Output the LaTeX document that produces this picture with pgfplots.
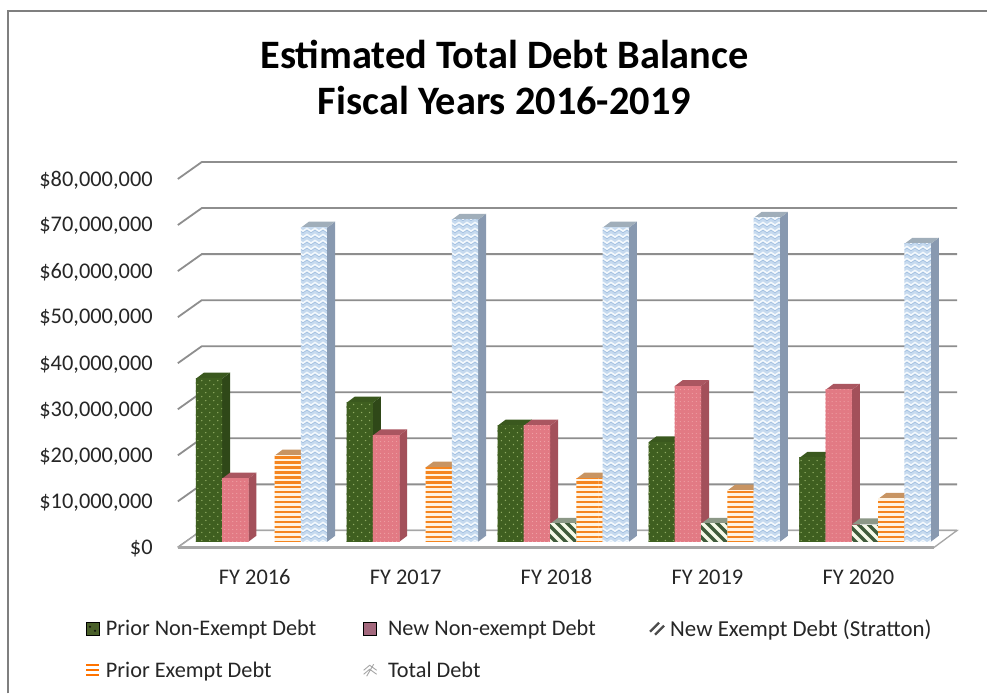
\documentclass[border=0pt]{standalone}
\usepackage{fontspec}
\setmainfont{Carlito}
\usepackage{pgfplots}
\usepackage{pgfplotstable}
\pgfplotsset{compat=1.18}
\usetikzlibrary{patterns}

\definecolor{gridgray}{HTML}{8E8E8E}
\definecolor{floorgray}{HTML}{A6A6A6}
\definecolor{framegray}{HTML}{7F7F7F}
\definecolor{inktext}{HTML}{262626}

% Two-colour fill textures for the bar fronts
\pgfdeclarepatterninherentlycolored{greendots}{\pgfqpoint{-1pt}{-1pt}}{\pgfqpoint{9pt}{9pt}}{\pgfqpoint{8pt}{8pt}}{%
  \definecolor{a}{HTML}{3F5F20}\definecolor{b}{HTML}{8FAA62}%
  \pgfsetfillcolor{a}\pgfpathrectangle{\pgfqpoint{-1pt}{-1pt}}{\pgfqpoint{10pt}{10pt}}\pgfusepath{fill}%
  \pgfsetfillcolor{b}\pgfpathcircle{\pgfqpoint{2pt}{2pt}}{0.75pt}\pgfpathcircle{\pgfqpoint{6pt}{6pt}}{0.75pt}\pgfusepath{fill}}
\pgfdeclarepatterninherentlycolored{pinkdots}{\pgfqpoint{-1pt}{-1pt}}{\pgfqpoint{5pt}{5pt}}{\pgfqpoint{4pt}{4pt}}{%
  \definecolor{a}{HTML}{E27A84}\definecolor{b}{HTML}{EFA0A4}%
  \pgfsetfillcolor{a}\pgfpathrectangle{\pgfqpoint{-1pt}{-1pt}}{\pgfqpoint{6pt}{6pt}}\pgfusepath{fill}%
  \pgfsetfillcolor{b}\pgfpathcircle{\pgfqpoint{1pt}{1pt}}{0.6pt}\pgfusepath{fill}}
\pgfdeclarepatterninherentlycolored{orangebands}{\pgfqpoint{-1pt}{0pt}}{\pgfqpoint{61pt}{5pt}}{\pgfqpoint{60pt}{5pt}}{%
  \definecolor{a}{HTML}{FFF3E2}\definecolor{b}{HTML}{F5851F}%
  \pgfsetfillcolor{a}\pgfpathrectangle{\pgfqpoint{-1pt}{0pt}}{\pgfqpoint{62pt}{5pt}}\pgfusepath{fill}%
  \pgfsetfillcolor{b}\pgfpathrectangle{\pgfqpoint{-1pt}{1pt}}{\pgfqpoint{62pt}{2.6pt}}\pgfusepath{fill}}
\pgfdeclarepatterninherentlycolored{bluewaves}{\pgfqpoint{0pt}{0pt}}{\pgfqpoint{8pt}{6pt}}{\pgfqpoint{8pt}{6pt}}{%
  \definecolor{a}{HTML}{C6DAEF}\definecolor{b}{HTML}{F4F9FD}\definecolor{c}{HTML}{A3C0E0}%
  \pgfsetfillcolor{a}\pgfpathrectangle{\pgfpointorigin}{\pgfqpoint{8pt}{6pt}}\pgfusepath{fill}%
  \pgfsetstrokecolor{c}\pgfsetlinewidth{0.7pt}%
  \pgfpathmoveto{\pgfqpoint{-1pt}{-0.4pt}}\pgflineto{\pgfqpoint{4pt}{3pt}}\pgflineto{\pgfqpoint{9pt}{-0.4pt}}\pgfusepath{stroke}%
  \pgfsetstrokecolor{b}\pgfsetlinewidth{1.5pt}%
  \pgfpathmoveto{\pgfqpoint{-1pt}{1.2pt}}\pgflineto{\pgfqpoint{4pt}{4.6pt}}\pgflineto{\pgfqpoint{9pt}{1.2pt}}\pgfusepath{stroke}}
\pgfdeclarepatterninherentlycolored{greenslant}{\pgfqpoint{0pt}{0pt}}{\pgfqpoint{10pt}{10pt}}{\pgfqpoint{10pt}{10pt}}{%
  \definecolor{a}{HTML}{F6F9E8}\definecolor{b}{HTML}{3F5B3A}%
  \pgfsetfillcolor{a}\pgfpathrectangle{\pgfpointorigin}{\pgfqpoint{10pt}{10pt}}\pgfusepath{fill}%
  \pgfsetstrokecolor{b}\pgfsetlinewidth{3.2pt}%
  \pgfpathmoveto{\pgfqpoint{-1pt}{11pt}}\pgflineto{\pgfqpoint{11pt}{-1pt}}%
  \pgfpathmoveto{\pgfqpoint{-3pt}{3pt}}\pgflineto{\pgfqpoint{3pt}{-3pt}}%
  \pgfpathmoveto{\pgfqpoint{7pt}{13pt}}\pgflineto{\pgfqpoint{13pt}{7pt}}\pgfusepath{stroke}}

\tikzset{
  prior front/.style={pattern=greendots},  prior side/.style={fill={rgb,255:red,47;green,72;blue,24}},  prior top/.style={fill={rgb,255:red,58;green,88;blue,30}},
  new front/.style={pattern=pinkdots},     new side/.style={fill={rgb,255:red,163;green,80;blue,90}},   new top/.style={fill={rgb,255:red,170;green,86;blue,96}},
  stratton front/.style={pattern=greenslant}, stratton side/.style={fill={rgb,255:red,120;green,135;blue,115}}, stratton top/.style={fill={rgb,255:red,140;green,152;blue,135}},
  exempt front/.style={pattern=orangebands},  exempt side/.style={fill={rgb,255:red,190;green,130;blue,85}},    exempt top/.style={fill={rgb,255:red,200;green,148;blue,98}},
  total front/.style={pattern=bluewaves},  total side/.style={fill={rgb,255:red,136;green,153;blue,176}}, total top/.style={fill={rgb,255:red,160;green,174;blue,186}},
}

% Debt balances in millions of dollars
\pgfplotstableread{
Row PriorNon NewNon Stratton PriorEx Total
0   35.4     13.7   0        18.7    68.2
1   30.2     23.1   0        16.1    69.9
2   25.2     25.2   3.9      13.7    68.2
3   21.6     33.8   3.9      11.1    70.3
4   18.2     33.0   3.75     9.3     64.7
}\debttable

% Bar geometry, in axis units
\def\slotw{0.1741}    % bar width along x
\def\depthx{0.053}    % extrusion along x
\def\depthy{1.30}     % extrusion along y
\def\basey{1.236}     % bars stand slightly behind the front edge of the floor

% One extruded bar: group, table column, slot offset in bar widths, look
\newcommand{\debtbar}[4]{%
  \pgfplotstablegetelem{#1}{#2}\of{\debttable}%
  \edef\barval{\pgfplotsretval}%
  \ifdim\barval pt>0pt
    \pgfmathsetmacro\xa{#1+(#3)*\slotw}%
    \pgfmathsetmacro\xb{\xa+\slotw}%
    \pgfmathsetmacro\xc{\xb+\depthx}%
    \pgfmathsetmacro\xd{\xa+\depthx}%
    \pgfmathsetmacro\ytop{\basey+\barval}%
    \pgfmathsetmacro\ytopb{\ytop+\depthy}%
    \pgfmathsetmacro\ybotb{\basey+\depthy}%
    \addplot[forget plot,draw=none,#4 side] coordinates {(\xb,\basey)(\xc,\ybotb)(\xc,\ytopb)(\xb,\ytop)};
    \addplot[forget plot,draw=none,#4 top] coordinates {(\xa,\ytop)(\xb,\ytop)(\xc,\ytopb)(\xd,\ytopb)};
    \addplot[forget plot,draw=none,#4 front] coordinates {(\xa,\basey)(\xb,\basey)(\xb,\ytop)(\xa,\ytop)};
  \fi
}

\begin{document}
\begin{tikzpicture}[x=1pt,y=1pt]
  \path[fill=white] (0,0) rectangle (988,694);
  \draw[framegray,line width=2pt] (8.5,0) -- (8.5,683) -- (988,683);
  \node[font=\fontsize{40.4}{46}\selectfont\bfseries,align=center,text=black] at (505,616.5)
    {Estimated Total Debt Balance\\Fiscal Years 2016-2019};

  \begin{axis}[
    at={(178pt,146pt)},anchor=south west,
    scale only axis,width=780pt,height=408pt,
    xmin=-0.5545,xmax=4.6094,ymin=0,ymax=88.5,
    clip=false,
    axis line style={draw=none},
    major tick length=0pt,
    xtick={0,1,2,3,4},
    xticklabels={FY 2016,FY 2017,FY 2018,FY 2019,FY 2020},
    ytick={0,10,...,80},
    yticklabels={\$0,{\$10,000,000},{\$20,000,000},{\$30,000,000},{\$40,000,000},{\$50,000,000},{\$60,000,000},{\$70,000,000},{\$80,000,000}},
    tick label style={font=\fontsize{22.4}{26}\selectfont,text=inktext,inner sep=0pt},
    yticklabel style={anchor=east,xshift=-25pt,yshift=-1pt},
    xticklabel style={anchor=north,xshift=-6.75pt,yshift=-22pt},
    ytick pos=left,xtick pos=bottom,
    legend columns=3,
    legend cell align=left,
    legend style={
      at={(-93pt,-70pt)},anchor=north west,
      draw=none,fill=none,
      font=\fontsize{22.3}{26}\selectfont,text=inktext,
      inner sep=0pt,
      row sep=20pt,
      /tikz/every even column/.style={column sep=45pt},
    },
  ]
    % Wall gridlines, running back from the front edge at each tick
    \pgfplotsinvokeforeach{0,10,...,80}{
      \pgfmathsetmacro\yback{#1+3.69}
      \addplot[forget plot,gridgray,line width=1.8pt,no marks]
        coordinates {(-0.5545,#1)(-0.3956,\yback)(4.6094,\yback)};
    }
    % Floor of the chart
    \addplot[forget plot,draw=floorgray,line width=1.3pt,fill=white]
      coordinates {(-0.5545,0)(-0.3956,3.69)(4.6094,3.69)(4.4571,0)(-0.5545,0)};
    \addplot[forget plot,floorgray,line width=2.5pt,no marks]
      coordinates {(-0.5545,0)(4.4571,0)};

    \pgfplotsinvokeforeach{0,1,2,3,4}{
      \debtbar{#1}{PriorNon}{-2.5}{prior}
      \debtbar{#1}{NewNon}{-1.5}{new}
      \debtbar{#1}{Stratton}{-0.5}{stratton}
      \debtbar{#1}{PriorEx}{0.5}{exempt}
      \debtbar{#1}{Total}{1.5}{total}
    }

    % Legend keys
    \addlegendimage{legend image code/.code={%
      \fill[fill={rgb,255:red,74;green,96;blue,42}] (0pt,-6.5pt) rectangle (13pt,6.5pt);
      \fill[fill={rgb,255:red,160;green,178;blue,120}] (4pt,2pt) circle (0.8pt) (9pt,-2pt) circle (0.8pt);}}
    \addlegendentry{\hspace{4pt}Prior Non-Exempt Debt}
    \addlegendimage{legend image code/.code={%
      \fill[fill={rgb,255:red,163;green,104;blue,125}] (0pt,-6.5pt) rectangle (13pt,6.5pt);}}
    \addlegendentry{\hspace{9pt}\makebox[214pt][l]{New Non-exempt Debt}}
    \addlegendimage{legend image code/.code={%
      \draw[black!70,line width=2.4pt] (0pt,-3pt) -- (9pt,6pt) (5pt,-6pt) -- (14pt,3pt);}}
    \addlegendentry{\hspace{3pt}\fontsize{22.9}{26}\selectfont New Exempt Debt (Stratton)}
    \addlegendimage{legend image code/.code={%
      \draw[orange!90!red,line width=1.8pt] (0pt,-5pt) -- (13pt,-5pt) (0pt,0pt) -- (13pt,0pt) (0pt,5pt) -- (13pt,5pt);}}
    \addlegendentry{\hspace{4pt}Prior Exempt Debt}
    \addlegendimage{legend image code/.code={%
      \draw[black!35,line width=0.9pt] (0pt,0pt) -- (6pt,5pt) -- (13pt,0pt) (0pt,-4pt) -- (6pt,1pt) -- (13pt,-4pt) (3pt,-6pt) -- (10pt,6pt);}}
    \addlegendentry{\hspace{9pt}Total Debt}
  \end{axis}
  \path (0,0) rectangle (988,694);
\end{tikzpicture}
\end{document}
